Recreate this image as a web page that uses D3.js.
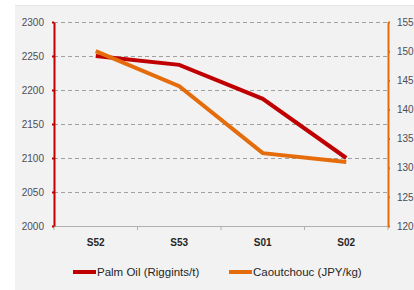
<!DOCTYPE html>
<html>
<head>
<meta charset="utf-8">
<script src="https://cdn.jsdelivr.net/npm/d3@7"></script>
<style>
	body{margin:0;background:#fff;}
	svg{display:block;font-family:"Liberation Sans",Arial,sans-serif;}
</style>
</head>
<body>
<svg id="chart" width="414" height="290"></svg>
<script>
const weeks = ['S52','S53','S01','S02'];
const palmOil = [2250,2237,2187,2100];
const caoutchouc = [150,144,132.5,131];
const leftTicks = [2000,2050,2100,2150,2200,2250,2300];
const rightTicks = [120,125,130,135,140,145,150,155];
const seriesNames = ['Palm Oil (Riggints/t)','Caoutchouc (JPY/kg)'];
const colors = ['#c00000','#e46c0a'];

const svg = d3.select('#chart');
const _m = {t:22,r:26,b:64,l:54};
const _w = 414 - _m.l - _m.r;
const _h = 290 - _m.t - _m.b;

//panel
svg.append('rect')
	.attr('x',15).attr('y',5)
	.attr('width',399).attr('height',285)
	.style('fill','#f2f2f2');
svg.append('line')
	.attr('x1',15).attr('x2',414).attr('y1',5.5).attr('y2',5.5)
	.style('stroke','#e6e6e6');

const g = svg.append('g').attr('transform',`translate(${_m.l},${_m.t})`);

const x = d3.scaleBand().domain(weeks).range([0,_w]);
const yL = d3.scaleLinear().domain([2000,2300]).range([_h,0]);
const yR = d3.scaleLinear().domain([120,155]).range([_h,0]);

//gridlines
g.selectAll('.grid')
	.data(leftTicks.slice(1))
	.enter()
	.append('line').attr('class','grid')
	.attr('x1',0).attr('x2',_w)
	.attr('y1',d=>Math.round(yL(d))+.5).attr('y2',d=>Math.round(yL(d))+.5)
	.style('stroke','#a0a0a0')
	.style('stroke-dasharray','4,3');

//x axis
const xAxis = g.append('g')
	.attr('transform',`translate(0,${_h})`)
	.call(d3.axisBottom(x).tickSize(0).tickPadding(13));
xAxis.select('.domain').style('stroke','#b0b0b0');
xAxis.selectAll('text')
	.style('font-size','10px')
	.style('font-weight','bold')
	.style('fill','#262626');
xAxis.selectAll('.xt')
	.data(d3.range(weeks.length+1))
	.enter()
	.append('line').attr('class','xt')
	.attr('x1',i=>i*x.bandwidth()).attr('x2',i=>i*x.bandwidth())
	.attr('y1',0).attr('y2',4)
	.style('stroke','#b0b0b0');

//left axis
const leftAxis = g.append('g')
	.call(d3.axisLeft(yL).tickValues(leftTicks).tickFormat(d3.format('d')).tickSize(2).tickSizeOuter(0).tickPadding(8));
leftAxis.select('.domain').style('stroke',colors[0]).style('stroke-width',2);
leftAxis.selectAll('.tick line').style('stroke',colors[0]).style('stroke-width',2);
leftAxis.selectAll('text').style('font-size','10px').style('fill','#4d4d57');

//right axis
const rightAxis = g.append('g')
	.attr('transform',`translate(${_w},0)`)
	.call(d3.axisRight(yR).tickValues(rightTicks).tickSize(2).tickSizeOuter(0).tickPadding(7));
rightAxis.select('.domain').style('stroke',colors[1]).style('stroke-width',2);
rightAxis.selectAll('.tick line').style('stroke',colors[1]).style('stroke-width',2);
rightAxis.selectAll('text').style('font-size','10px').style('fill','#4d4d57');

//lines
const cx = d=>x(d)+x.bandwidth()/2;
const lineL = d3.line().x((d,i)=>cx(weeks[i])).y(d=>yL(d));
const lineR = d3.line().x((d,i)=>cx(weeks[i])).y(d=>yR(d));
g.append('path')
	.datum(palmOil)
	.attr('d',lineL)
	.style('fill','none')
	.style('stroke',colors[0])
	.style('stroke-width',4);
g.append('path')
	.datum(caoutchouc)
	.attr('d',lineR)
	.style('fill','none')
	.style('stroke',colors[1])
	.style('stroke-width',4);

//legend
const legend = svg.append('g').attr('transform','translate(73,272)');
const legendX = [0,156];
seriesNames.forEach((name,i)=>{
	const item = legend.append('g').attr('transform',`translate(${legendX[i]},0)`);
	item.append('line')
		.attr('x1',0).attr('x2',23)
		.style('stroke',colors[i])
		.style('stroke-width',4);
	item.append('text')
		.attr('x',24).attr('dy','0.35em')
		.text(name)
		.style('font-size','11.5px')
		.style('fill','#262626');
});
</script>
</body>
</html>
